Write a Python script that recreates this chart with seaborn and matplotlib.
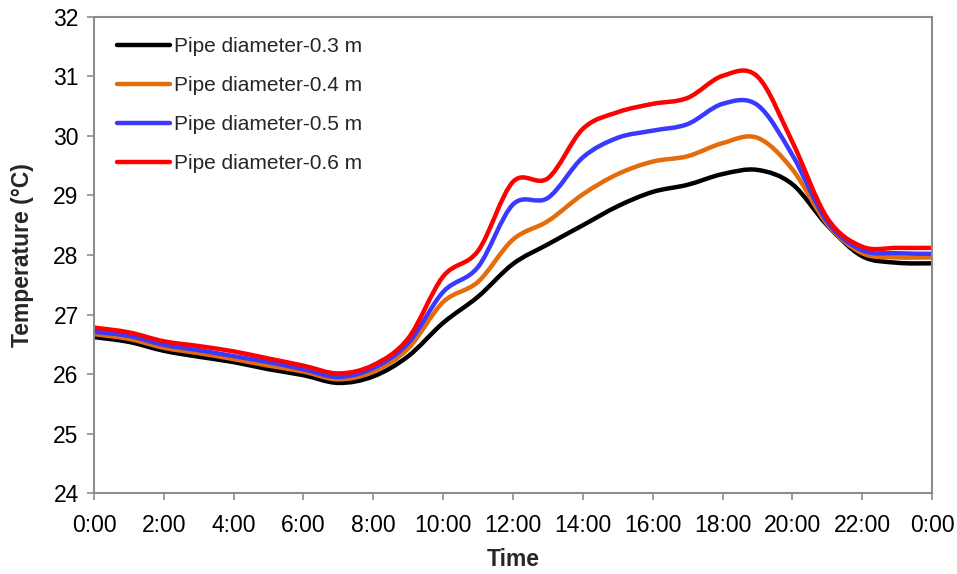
import matplotlib
matplotlib.use('Agg')
import matplotlib.pyplot as plt
from matplotlib.path import Path
from matplotlib.patches import PathPatch
from matplotlib.lines import Line2D
import seaborn as sns
import numpy as np

####### Data #######
hours = list(range(0, 25))
tick_hours = list(range(0, 25, 2))
tick_labels = ['0:00', '2:00', '4:00', '6:00', '8:00', '10:00', '12:00',
               '14:00', '16:00', '18:00', '20:00', '22:00', '0:00']

d03 = [26.62, 26.54, 26.39, 26.29, 26.20, 26.08, 25.98, 25.85, 25.96, 26.30,
       26.86, 27.30, 27.85, 28.18, 28.50, 28.82, 29.06, 29.18, 29.36, 29.43,
       29.19, 28.50, 27.98, 27.87, 27.86]
d04 = [26.67, 26.59, 26.44, 26.35, 26.25, 26.14, 26.04, 25.91, 26.04, 26.43,
       27.21, 27.55, 28.26, 28.57, 29.02, 29.36, 29.57, 29.66, 29.88, 29.97,
       29.44, 28.52, 28.03, 27.96, 27.96]
d05 = [26.71, 26.64, 26.49, 26.40, 26.30, 26.20, 26.08, 25.95, 26.10, 26.52,
       27.38, 27.80, 28.85, 28.96, 29.64, 29.97, 30.09, 30.20, 30.54, 30.52,
       29.68, 28.56, 28.08, 28.03, 28.02]
d06 = [26.78, 26.70, 26.55, 26.47, 26.38, 26.26, 26.14, 26.01, 26.15, 26.60,
       27.64, 28.07, 29.23, 29.29, 30.12, 30.40, 30.54, 30.64, 31.01, 31.00,
       29.90, 28.62, 28.14, 28.12, 28.12]

series = {
    'Pipe diameter-0.3 m': d03,
    'Pipe diameter-0.4 m': d04,
    'Pipe diameter-0.5 m': d05,
    'Pipe diameter-0.6 m': d06,
}
colors = ['#000000', '#E46C0A', '#3A3AFF', '#FF0000']


# Excel-like smoothed line: cubic Bezier through every point (Catmull-Rom tangents)
def smooth_path(x, y):
    pts = np.column_stack([x, y]).astype(float)
    ext = np.vstack([pts[0], pts, pts[-1]])
    verts = [pts[0]]
    codes = [Path.MOVETO]
    for i in range(len(pts) - 1):
        p0, p1, p2, p3 = ext[i], ext[i + 1], ext[i + 2], ext[i + 3]
        c1 = p1 + (p2 - p0) / 6.0
        c2 = p2 - (p3 - p1) / 6.0
        verts += [c1, c2, p2]
        codes += [Path.CURVE4, Path.CURVE4, Path.CURVE4]
    return Path(verts, codes)


####### Plot #######
sns.set_style('white')
plt.rcParams['font.family'] = ['Liberation Sans', 'DejaVu Sans']

fig = plt.figure(figsize=(9.57, 5.74), dpi=100)
ax = fig.add_axes([0.0982, 0.1411, 0.8757, 0.8293])

handles = []
for (name, vals), c in zip(series.items(), colors):
    patch = PathPatch(smooth_path(hours, vals), facecolor='none', edgecolor=c,
                      lw=3.2, capstyle='round', joinstyle='round')
    ax.add_patch(patch)
    handles.append(Line2D([], [], color=c, lw=3.2, label=name))

ax.set_xlim(0, 24)
ax.set_ylim(24, 32)
ax.set_xticks(tick_hours)
ax.set_xticklabels(tick_labels)
ax.set_yticks(range(24, 33))

for s in ax.spines.values():
    s.set_color('#8c8c8c')
    s.set_linewidth(1.5)

ax.tick_params(axis='both', which='both', direction='out', length=5, width=1.2,
               color='#8c8c8c', labelsize=16.5, labelcolor='black',
               bottom=True, left=True)
ax.tick_params(axis='x', pad=10)
ax.tick_params(axis='y', pad=6)

ax.set_xlabel('Time', fontsize=16.5, fontweight='bold', labelpad=8)
ax.set_ylabel('Temperature (°C)', fontsize=16.5, fontweight='bold', labelpad=14)

ax.legend(handles=handles, loc='upper left', frameon=False, fontsize=15,
          handlelength=2.55, handletextpad=0.2, labelspacing=0.96,
          borderaxespad=0, borderpad=0, bbox_to_anchor=(0.027, 0.958))

fig.savefig('out.png', dpi=100)
